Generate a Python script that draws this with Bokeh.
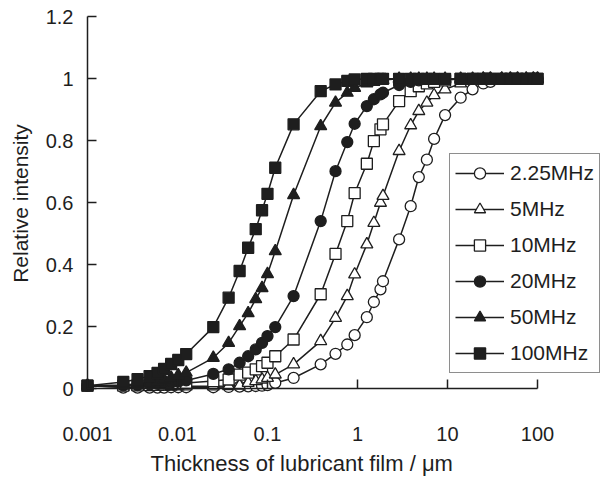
from bokeh.plotting import figure
from bokeh.models import Range1d, FixedTicker, Legend, LegendItem, LogAxis, LinearAxis, Title
from bokeh.embed import file_html
from bokeh.resources import INLINE

# ---- data ----
thickness = [0.001, 0.0025, 0.0036, 0.0049, 0.006, 0.0071, 0.0085, 0.0102, 0.0125,
             0.025, 0.037, 0.049, 0.061, 0.074, 0.087, 0.1, 0.122, 0.195,
             0.39, 0.57, 0.77, 0.93, 1.27, 1.52, 1.8, 1.92, 2.9, 3.9, 4.8, 5.9,
             7.1, 9.4, 14, 19, 25, 30, 40, 50, 60, 75, 90, 100]

freq_labels = ["2.25MHz", "5MHz", "10MHz", "20MHz", "50MHz", "100MHz"]

r_2_25 = [0.01, 0.004, 0.004, 0.004, 0.004, 0.004, 0.005, 0.005, 0.005,
          0.005, 0.006, 0.007, 0.008, 0.009, 0.01, 0.012, 0.019, 0.035,
          0.079, 0.113, 0.143, 0.173, 0.231, 0.28, 0.321, 0.347, 0.482, 0.589, 0.683, 0.739,
          0.806, 0.883, 0.939, 0.966, 0.985, 0.99, 1.0, 1.0, 1.0, 1.0, 1.0, 1.0]
r_5 = [0.01, 0.006, 0.006, 0.006, 0.006, 0.007, 0.007, 0.008, 0.008,
       0.008, 0.009, 0.01, 0.019, 0.025, 0.03, 0.035, 0.046, 0.079,
       0.154, 0.229, 0.299, 0.369, 0.466, 0.535, 0.6, 0.622, 0.767, 0.85, 0.896, 0.923,
       0.947, 0.966, 0.985, 0.993, 1.0, 1.0, 1.0, 1.0, 1.0, 1.0, 1.0, 1.0]
r_10 = [0.01, 0.01, 0.011, 0.012, 0.013, 0.014, 0.015, 0.017, 0.019,
        0.025, 0.03, 0.046, 0.052, 0.063, 0.073, 0.084, 0.105, 0.159,
        0.305, 0.435, 0.541, 0.631, 0.726, 0.799, 0.837, 0.853, 0.928, 0.96, 0.976, 0.985,
        0.99, 0.995, 1.0, 1.0, 1.0, 1.0, 1.0, 1.0, 1.0, 1.0, 1.0, 1.0]
r_20 = [0.01, 0.011, 0.012, 0.014, 0.016, 0.018, 0.02, 0.023, 0.027,
        0.048, 0.063, 0.084, 0.105, 0.127, 0.148, 0.17, 0.199, 0.299,
        0.541, 0.702, 0.796, 0.855, 0.912, 0.934, 0.95, 0.955, 0.98, 0.99, 0.995, 1.0,
        1.0, 1.0, 1.0, 1.0, 1.0, 1.0, 1.0, 1.0, 1.0, 1.0, 1.0, 1.0]
r_50 = [0.01, 0.012, 0.016, 0.02, 0.025, 0.03, 0.036, 0.044, 0.052,
        0.1, 0.148, 0.202, 0.244, 0.289, 0.325, 0.37, 0.444, 0.625,
        0.847, 0.923, 0.955, 0.971, 0.985, 0.99, 0.994, 0.996, 1.0, 1.0, 1.0, 1.0,
        1.0, 1.0, 1.0, 1.0, 1.0, 1.0, 1.0, 1.0, 1.0, 1.0, 1.0, 1.0]
r_100 = [0.01, 0.022, 0.031, 0.041, 0.051, 0.064, 0.08, 0.093, 0.112,
         0.199, 0.294, 0.38, 0.455, 0.515, 0.576, 0.629, 0.713, 0.853,
         0.96, 0.982, 0.993, 0.998, 1.0, 1.0, 1.0, 1.0, 1.0, 1.0, 1.0, 1.0,
         1.0, 1.0, 1.0, 1.0, 1.0, 1.0, 1.0, 1.0, 1.0, 1.0, 1.0, 1.0]

x_ticks = [0.001, 0.01, 0.1, 1.0, 10.0, 100.0]
x_tick_labels = ["0.001", "0.01", "0.1", "1", "10", "100"]
y_ticks = [0.0, 0.2, 0.4, 0.6, 0.8, 1.0, 1.2]
y_tick_labels = ["0", "0.2", "0.4", "0.6", "0.8", "1", "1.2"]
x_title = "Thickness of lubricant film / μm"
y_title = "Relative intensity"

# ---- styling ----
FONT = "Liberation Sans"
INK = "#1e1e1e"

p = figure(width=602, height=484, x_axis_type="log",
           x_range=Range1d(0.000736, 501.2), y_range=Range1d(-0.0248, 1.2203),
           output_backend="svg", toolbar_location=None,
           min_border_left=75, min_border_right=2, min_border_top=10, min_border_bottom=88)

p.grid.visible = False
p.outline_line_color = None
p.background_fill_color = "white"
p.border_fill_color = "white"

# label-only axes (at the frame edges)
for ax in (p.xaxis[0], p.yaxis[0]):
    ax.axis_line_color = None
    ax.major_tick_line_color = None
    ax.major_tick_in = 0
    ax.major_tick_out = 0
    ax.minor_tick_line_color = None
    ax.major_label_text_font = FONT
    ax.major_label_text_font_size = "20px"
    ax.major_label_text_color = INK
    ax.axis_label_text_font = FONT
    ax.axis_label_text_font_size = "21px"
    ax.axis_label_text_font_style = "normal"
    ax.axis_label_text_color = INK

p.xaxis[0].ticker = FixedTicker(ticks=x_ticks)
p.xaxis[0].major_label_overrides = dict(zip(x_ticks, x_tick_labels))
p.xaxis[0].major_label_standoff = 30

p.yaxis[0].ticker = FixedTicker(ticks=y_ticks)
p.yaxis[0].major_label_overrides = dict(zip(y_ticks, y_tick_labels))
p.yaxis[0].major_label_standoff = 2
p.yaxis[0].axis_label = y_title
p.yaxis[0].axis_label_standoff = 11

# axis lines + inward ticks, crossing at (0.001, 0)
rule_style = dict(axis_line_color=INK, axis_line_width=1.5,
                  major_tick_line_color=INK, major_tick_line_width=1.5,
                  major_tick_in=9, major_tick_out=0,
                  minor_tick_line_color=None, major_label_text_color=None)
x_rule = LogAxis(ticker=FixedTicker(ticks=x_ticks), bounds=(x_ticks[0], x_ticks[-1]),
                 fixed_location=y_ticks[0], **rule_style)
y_rule = LinearAxis(ticker=FixedTicker(ticks=y_ticks), bounds=(y_ticks[0], y_ticks[-1]),
                    fixed_location=x_ticks[0], **rule_style)
p.add_layout(x_rule, "below")
p.add_layout(y_rule, "left")

# x-axis title, centred under the 0.001..100 span like the reference
p.add_layout(Title(text=x_title, align="left", offset=75, standoff=10,
                   text_font=FONT, text_font_size="22px", text_font_style="normal",
                   text_color=INK), "below")

series = [r_2_25, r_5, r_10, r_20, r_50, r_100]
markers = ["circle", "triangle", "square", "circle", "triangle", "square"]
fills = ["white", "white", "white", INK, INK, INK]
sizes = [11, 12, 11, 11, 12, 11]

items = []
for label, ys, mk, fc, sz in zip(freq_labels, series, markers, fills, sizes):
    lr = p.line(thickness, ys, line_color=INK, line_width=1.5)
    sr = p.scatter(thickness, ys, marker=mk, size=sz, fill_color=fc,
                   line_color=INK, line_width=1.3)
    items.append(LegendItem(label=label, renderers=[lr, sr]))

legend = Legend(items=items, location=(374, 23), orientation="vertical",
                glyph_width=49, glyph_height=28, label_height=28, label_width=84,
                spacing=8, padding=5, margin=0, label_standoff=6,
                label_text_font=FONT, label_text_font_size="21px",
                label_text_color=INK, border_line_color=INK, border_line_width=1.3,
                background_fill_color="white", background_fill_alpha=1.0)
p.add_layout(legend)

open("out.html", "w").write(file_html(p, INLINE))
